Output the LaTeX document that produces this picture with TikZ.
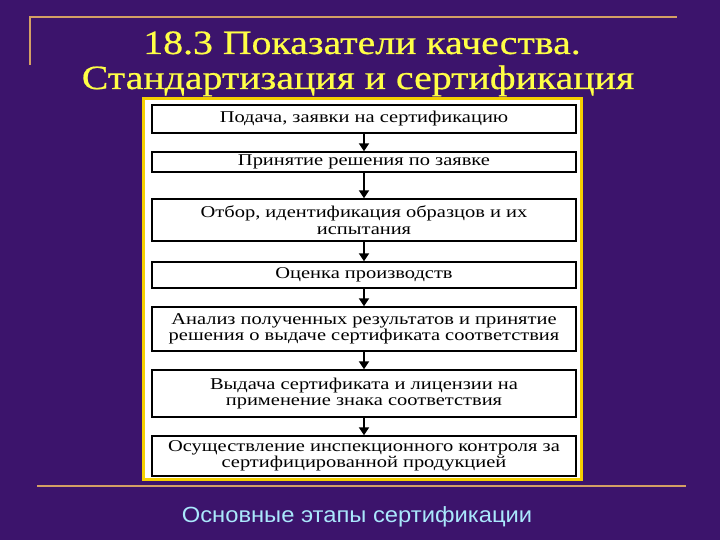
\documentclass[tikz,border=0pt]{standalone}
\usepackage{fontspec}
\setmainfont{Liberation Serif}
\newfontfamily\capfont[FakeStretch=1.08]{Liberation Sans}
\newfontfamily\boxfont[FakeStretch=1.24]{Liberation Serif}
\newfontfamily\titlefont[FakeStretch=1.17,FakeBold=0.6]{Liberation Serif}
\usetikzlibrary{arrows.meta}
\definecolor{bgpurple}{RGB}{60,20,108}
\definecolor{tanline}{RGB}{212,160,100}
\definecolor{panelyellow}{RGB}{245,208,0}
\definecolor{titleyellow}{RGB}{255,255,70}
\definecolor{capcyan}{RGB}{170,232,252}
\tikzset{
  stagebox/.style={draw=black, line width=1.4pt, fill=white, minimum width=424pt, inner sep=0pt, align=center, font=\boxfont\fontsize{16.5}{16.5}\selectfont},
  flowarrow/.style={draw=black, line width=2.4pt, -{Triangle[length=8pt,width=10pt]}},
  titletext/.style={text=titleyellow, font=\titlefont\fontsize{34}{36}\selectfont, inner sep=0pt},
}
\begin{document}
\begin{tikzpicture}[x=1pt,y=-1pt]
\fill[bgpurple] (0,0) rectangle (720,540);
\useasboundingbox (0,0) rectangle (720,540);
% decorative lines
\draw[tanline, line width=1.6pt] (30,65) -- (30,17) -- (677,17);
\draw[tanline, line width=1.6pt] (37,486) -- (686,486);
% title
\node[titletext, anchor=base] (t1) at (362,54) {18.3 Показатели качества.};
\node[titletext, anchor=base] (t2) at (358,89) {Стандартизация и сертификация};
% panel
\draw[panelyellow, line width=3pt, fill=white] (143.5,98.5) rectangle (581.5,479.5);
% boxes
\node[stagebox, minimum height=28pt] (b1) at (364,119) {Подача, заявки на сертификацию};
\node[stagebox, minimum height=20pt] (b2) at (364,162) {Принятие решения по заявке};
\node[stagebox, minimum height=42pt] (b3) at (364,220) {Отбор, идентификация образцов и их\\испытания};
\node[stagebox, minimum height=26pt] (b4) at (364,275) {Оценка производств};
\node[stagebox, minimum height=44pt] (b5) at (364,329) {Анализ полученных результатов и принятие\\решения о выдаче сертификата соответствия};
\node[stagebox, minimum height=47pt] (b6) at (364,393.5) {Выдача сертификата и лицензии на\\применение знака соответствия};
\node[stagebox, minimum height=40pt] (b7) at (364,456) {Осуществление инспекционного контроля за\\сертифицированной продукцией};
\foreach \a/\b in {b1/b2,b2/b3,b3/b4,b4/b5,b5/b6,b6/b7}
  \draw[flowarrow] (\a.south) -- (\b.north);
% caption
\node[text=capcyan, font=\capfont\fontsize{22}{24}\selectfont, anchor=base] (cap) at (357,522) {Основные этапы сертификации};
\end{tikzpicture}
\end{document}
